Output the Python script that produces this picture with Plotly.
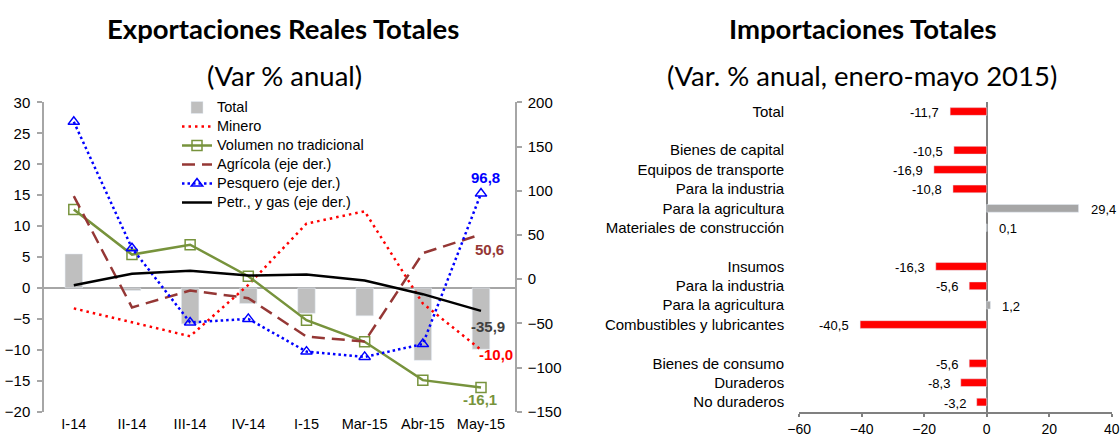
import plotly.graph_objects as go

# ---------------- data: left chart (Exportaciones) ----------------
periods = ["I-14", "II-14", "III-14", "IV-14", "I-15", "Mar-15", "Abr-15", "May-15"]
total = [5.5, -0.4, -5.8, -2.5, -4.1, -4.5, -11.7, -9.9]
minero = [-3.3, -5.5, -7.8, 0.5, 10.4, 12.4, -2.5, -10.0]
volumen_nt = [12.7, 5.4, 7.0, 1.9, -5.2, -8.7, -14.9, -16.1]
agricola = [94.0, -32.0, -12.9, -21.5, -65.0, -70.6, 29.4, 50.6]
pesquero = [178.0, 35.0, -49.0, -45.0, -82.0, -88.0, -73.5, 96.8]
petr_gas = [-6.8, 6.0, 9.4, 4.1, 5.2, -1.6, -17.0, -35.9]

# ---------------- data: right chart (Importaciones) ----------------
imp_labels = ["Total", "", "Bienes de capital", "Equipos de transporte",
              "Para la industria", "Para la agricultura",
              "Materiales de construcción", "", "Insumos",
              "Para la industria", "Para la agricultura",
              "Combustibles y lubricantes", "", "Bienes de consumo",
              "Duraderos", "No duraderos"]
imp_values = [-11.7, None, -10.5, -16.9, -10.8, 29.4, 0.1, None, -16.3,
              -5.6, 1.2, -40.5, None, -5.6, -8.3, -3.2]

W, H = 1120, 436
ARIAL = "Liberation Sans, Arial, sans-serif"
TITLE_FONT = "Lato, Open Sans, sans-serif"
AXC = "#A6A6A6"


def fmt(v):
    return f"{v:.1f}".replace(".", ",")


def px_x(p):
    return p / W


def px_y(p):
    return (H - p) / H


def leg(name):
    return '<span style="font-size:14.5px">' + name + '</span>'


fig = go.Figure()

# ----- left chart traces -----
fig.add_trace(go.Bar(x=periods, y=total, name=leg("Total"), marker_color="#BFBFBF",
                     width=0.3, xaxis="x", yaxis="y"))
fig.add_trace(go.Scatter(x=periods, y=minero, name=leg("Minero"), mode="lines",
                         line=dict(color="#FF0000", width=2.5, dash="2.5px,4px"),
                         xaxis="x", yaxis="y"))
fig.add_trace(go.Scatter(x=periods, y=volumen_nt, name=leg("Volumen no tradicional"),
                         mode="lines+markers",
                         line=dict(color="#77933C", width=2.5),
                         marker=dict(symbol="square-open", size=10, color="#77933C",
                                     line=dict(width=1.5, color="#77933C")),
                         xaxis="x", yaxis="y"))
fig.add_trace(go.Scatter(x=periods, y=agricola, name=leg("Agrícola (eje der.)"), mode="lines",
                         line=dict(color="#953735", width=2.5, dash="13px,7px"),
                         xaxis="x", yaxis="y2"))
fig.add_trace(go.Scatter(x=periods, y=pesquero, name=leg("Pesquero (eje der.)"),
                         mode="lines+markers",
                         line=dict(color="#0000FF", width=2.5, dash="2.5px,3px"),
                         marker=dict(symbol="triangle-up-open", size=10, color="#0000FF",
                                     line=dict(width=1.5, color="#0000FF")),
                         xaxis="x", yaxis="y2"))
fig.add_trace(go.Scatter(x=periods, y=petr_gas, name=leg("Petr., y gas (eje der.)"), mode="lines",
                         line=dict(color="#000000", width=2.5),
                         xaxis="x", yaxis="y2"))

# ----- right chart traces -----
rows = list(range(len(imp_labels)))
bar_colors = ["#FF0000" if (v is not None and v < 0) else "#A6A6A6" for v in imp_values]
fig.add_trace(go.Bar(x=imp_values, y=rows, orientation="h", marker_color=bar_colors,
                     width=0.4, showlegend=False, xaxis="x2", yaxis="y3"))

annotations = []
for i, v in enumerate(imp_values):
    if v is None:
        continue
    annotations.append(dict(x=v, y=i, xref="x2", yref="y3", text=fmt(v), showarrow=False,
                            xanchor="right" if v < 0 else "left",
                            xshift=-9 if v < 0 else 10, yshift=-1,
                            font=dict(family=ARIAL, size=13, color="#000000")))

# left chart end labels
last = len(periods) - 1
end_labels = [
    (pesquero[last], "y2", "#0000FF", 4, 16),
    (agricola[last], "y2", "#953735", 8, -15),
    (petr_gas[last], "y2", "#404040", 7, -16),
    (minero[last], "y", "#FF0000", 15, -5),
    (volumen_nt[last], "y", "#77933C", -1, -12),
]
for val, yr, col, xs, ys in end_labels:
    annotations.append(dict(x=periods[last], y=val, xref="x", yref=yr, text="<b>" + fmt(val) + "</b>",
                            showarrow=False, xanchor="center", yanchor="middle",
                            xshift=xs, yshift=ys,
                            font=dict(family=ARIAL, size=15, color=col)))

# titles
titles = [
    ("<b>Exportaciones Reales Totales</b>", 283, 29),
    ("(Var % anual)", 284, 76),
    ("<b>Importaciones Totales</b>", 863, 29),
    ("(Var. % anual, enero-mayo 2015)", 862, 76),
]
for txt, cx, cy in titles:
    annotations.append(dict(x=px_x(cx), y=px_y(cy), xref="paper", yref="paper", text=txt,
                            showarrow=False, xanchor="center", yanchor="middle",
                            font=dict(family=TITLE_FONT, size=27.5, color="#000000")))

tick_font = dict(family=ARIAL, size=15, color="#000000")
xtick_font = dict(family=ARIAL, size=14.5, color="#000000")

fig.update_layout(
    width=W, height=H,
    margin=dict(l=0, r=0, t=0, b=0),
    paper_bgcolor="white", plot_bgcolor="white",
    barmode="overlay",
    showlegend=True,
    legend=dict(x=px_x(177), y=px_y(93), xanchor="left", yanchor="top",
                bgcolor="rgba(0,0,0,0)", font=dict(family=ARIAL, size=12, color="#000000"),
                traceorder="normal", tracegroupgap=0, itemwidth=30),
    annotations=annotations,
    xaxis=dict(domain=[px_x(44), px_x(515)], anchor="y", type="category",
               showline=False, showgrid=False, zeroline=False,
               ticks="", ticklabelstandoff=2,
               tickfont=xtick_font, automargin=False),
    yaxis=dict(domain=[px_y(411.7), px_y(102.4)], anchor="x", range=[-20, 30], dtick=5,
               showline=True, linecolor=AXC, linewidth=1.5,
               ticks="outside", ticklen=5, tickcolor=AXC, tickwidth=1.5,
               ticklabelstandoff=4,
               showgrid=False, zeroline=True, zerolinecolor=AXC, zerolinewidth=1.5,
               tickfont=tick_font, automargin=False),
    yaxis2=dict(overlaying="y", side="right", anchor="x", range=[-150, 200], dtick=50,
                showline=True, linecolor=AXC, linewidth=1.5,
                ticks="outside", ticklen=5, tickcolor=AXC, tickwidth=1.5,
                ticklabelstandoff=3,
                showgrid=False, zeroline=False, tickfont=tick_font, automargin=False),
    xaxis2=dict(domain=[px_x(799.2), px_x(1111.7)], anchor="y3", range=[-60, 40], dtick=20,
                showline=True, linecolor="#808080", linewidth=2,
                ticks="outside", ticklen=3, tickcolor="#808080", tickwidth=1.5,
                ticklabelstandoff=0,
                showgrid=False, zeroline=True, zerolinecolor="#808080", zerolinewidth=2,
                tickfont=dict(family=ARIAL, size=14, color="#000000"), automargin=False),
    yaxis3=dict(domain=[px_y(411.7), px_y(101.8)], anchor="x2",
                range=[len(imp_labels) - 0.5, -0.5],
                tickmode="array", tickvals=rows, ticktext=imp_labels,
                showline=False, showgrid=False, zeroline=False,
                ticks="outside", ticklen=11, tickcolor="rgba(0,0,0,0)",
                tickfont=tick_font, automargin=False),
)

fig.write_html("out.html", config={"displayModeBar": False},
               post_script="document.body.style.margin='0';document.body.style.overflow='hidden';")
